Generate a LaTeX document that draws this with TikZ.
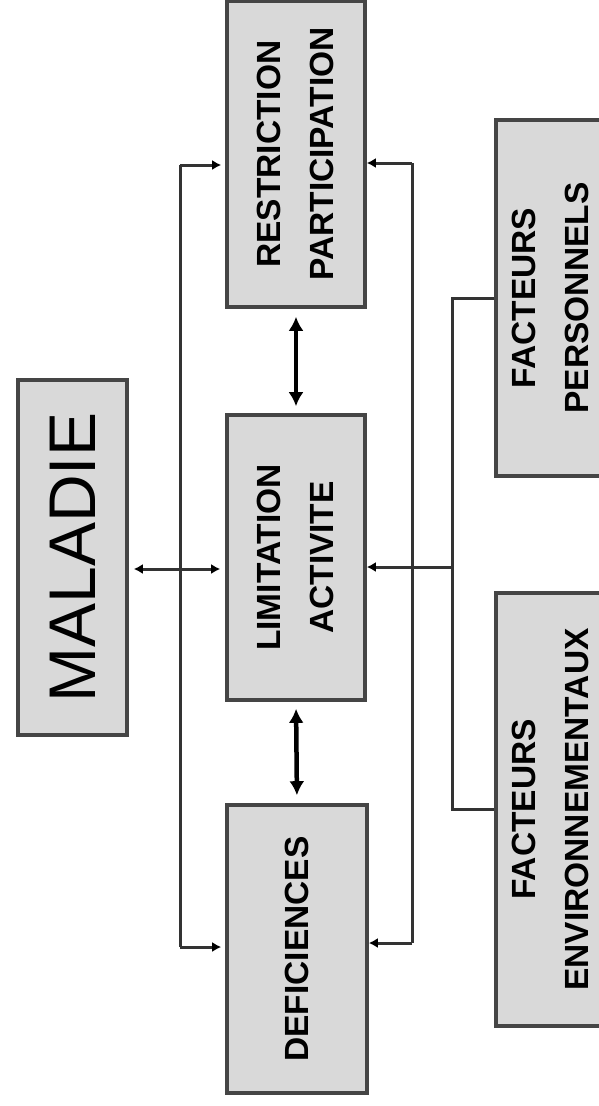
\documentclass[tikz,border=0pt]{standalone}
\usepackage{fontspec}
\setmainfont{Liberation Sans}
\usetikzlibrary{arrows.meta}
\definecolor{boxfill}{HTML}{D9D9D9}
\definecolor{boxedge}{HTML}{454545}
\definecolor{linecol}{HTML}{333333}
\tikzset{
  box/.style={draw=boxedge, fill=boxfill, line width=3.6pt, inner sep=0pt, align=center},
  lbl/.style={font=\bfseries\fontsize{33.5}{53}\selectfont},
  wire/.style={draw=linecol, line width=3pt},
  tip/.style={-{Latex[length=9pt,width=10pt,color=black]}},
  biarrow/.style={draw=black, line width=4.5pt, {Latex[length=14pt,width=15pt]}-{Latex[length=14pt,width=15pt]}}
}
\begin{document}
\begin{tikzpicture}[x=1pt,y=-1pt]
\useasboundingbox (0,0) rectangle (599,1106);
% boxes
\node[box, minimum width=109pt, minimum height=355pt, font=\fontsize{66}{66}\selectfont] (maladie) at (72.5,557.5) {\rotatebox{90}{MALADIE}};
\node[box, lbl, minimum width=138pt, minimum height=306pt] (restr) at (296,154) {\rotatebox{90}{\begin{tabular}{c}RESTRICTION\\PARTICIPATION\end{tabular}}};
\node[box, lbl, minimum width=138pt, minimum height=285pt] (limit) at (296,557.5) {\rotatebox{90}{\begin{tabular}{c}LIMITATION\\ACTIVITE\end{tabular}}};
\node[box, lbl, minimum width=140pt, minimum height=288pt] (defic) at (297,949) {\rotatebox{90}{DEFICIENCES}};
\node[box, lbl, minimum width=110pt, minimum height=356pt] (fp) at (551,298) {\rotatebox{90}{\begin{tabular}{c}FACTEURS\\PERSONNELS\end{tabular}}};
\node[box, lbl, minimum width=110pt, minimum height=433pt] (fe) at (551,809.5) {\rotatebox{90}{\begin{tabular}{c}FACTEURS\\ENVIRONNEMENTAUX\end{tabular}}};
% bus coordinates
\coordinate (lt) at (180,165);
\coordinate (lb) at (180,947);
\coordinate (rt) at (412,163);
\coordinate (rb) at (412,943);
\coordinate (mid) at (180,569);
\coordinate (rmid) at (452,567);
\coordinate (ft) at (452,298);
\coordinate (fb) at (452,809.5);
% left bus
\draw[wire] (lt) -- (lb);
\draw[wire, tip, shorten >=4pt] (lt) -- (lt -| restr.west);
\draw[wire, tip, shorten >=4pt] (lb) -- (lb -| defic.west);
% right bus
\draw[wire] (rt) -- (rb);
\draw[wire, tip] (rt) -- (rt -| restr.east);
\draw[wire, tip] (rb) -- (rb -| defic.east);
% maladie <-> limitation
\draw[wire, tip, shorten >=5pt] (mid) -- (mid -| maladie.east);
\draw[wire, tip, shorten >=5pt] (mid) -- (mid -| limit.west);
% factors
\draw[wire] (ft -| fp.west) -- (ft) -- (fb) -- (fb -| fe.west);
\draw[wire, tip] (rmid) -- (rmid -| limit.east);
% thick double arrows
\draw[biarrow, shorten <=8pt, shorten >=7pt] (restr.south) -- (limit.north);
\draw[biarrow, shorten <=7pt, shorten >=8pt] (limit.south) -- (defic.north);
\end{tikzpicture}
\end{document}
